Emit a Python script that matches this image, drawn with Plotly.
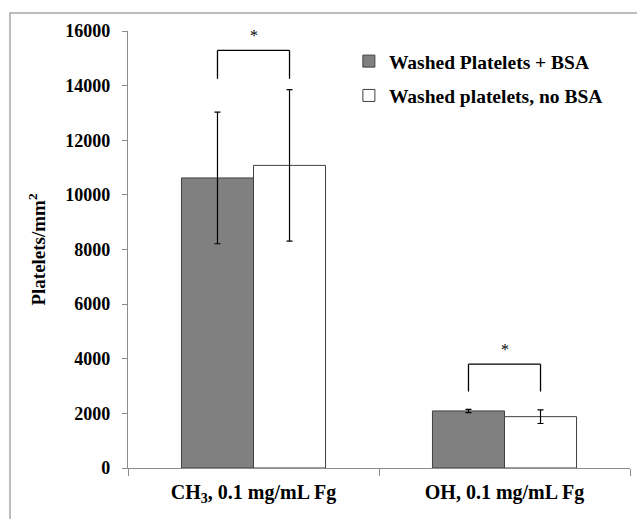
import plotly.graph_objects as go

categories = ["CH<sub>3</sub>, 0.1 mg/mL Fg", "OH, 0.1 mg/mL Fg"]
bsa_values = [10620, 2090]
bsa_errors = [2410, 60]
nobsa_values = [11080, 1880]
nobsa_errors = [2770, 250]
series_names = ["Washed Platelets + BSA", "Washed platelets, no BSA"]
bracket_low = [14250, 2800]
bracket_high = [15290, 3800]
star_y = [15850, 4350]
y_ticks = [0, 2000, 4000, 6000, 8000, 10000, 12000, 14000, 16000]

FONT = "Liberation Serif"
BARGAP = 0.426
half = (1 - BARGAP) / 4.0

fig = go.Figure()
fig.add_trace(go.Bar(
    x=categories, y=bsa_values, name="<b>" + series_names[0] + "</b>", legendgroup="a",
    marker=dict(color="#808080", line=dict(color="#404040", width=1)),
    error_y=dict(type="data", array=bsa_errors, color="black", thickness=1.2, width=3),
))
fig.add_trace(go.Bar(
    x=categories, y=nobsa_values, name="<b>" + series_names[1] + "</b>", legendgroup="b",
    marker=dict(color="white", line=dict(color="#404040", width=1)),
    error_y=dict(type="data", array=nobsa_errors, color="black", thickness=1.2, width=3),
))

shapes = []
annotations = []
for i in range(len(categories)):
    xl = i - half
    xr = i + half
    for (xa, ya, xb, yb) in [(xl, bracket_low[i], xl, bracket_high[i]),
                             (xl, bracket_high[i], xr, bracket_high[i]),
                             (xr, bracket_high[i], xr, bracket_low[i])]:
        shapes.append(dict(type="line", xref="x", yref="y", x0=xa, y0=ya, x1=xb, y1=yb,
                           line=dict(color="black", width=1.3)))
    annotations.append(dict(x=i, y=star_y[i], xref="x", yref="y", text="*", showarrow=False,
                            font=dict(family=FONT, size=16, color="black")))

# outer frame
shapes.append(dict(type="rect", xref="paper", yref="paper",
                   x0=(10 - 128) / 502, x1=(650 - 128) / 502,
                   y0=(468 - 530) / 437, y1=(468 - 13) / 437,
                   line=dict(color="#a6a6a6", width=1.5), fillcolor="rgba(0,0,0,0)", layer="below"))

fig.update_layout(
    width=637, height=519,
    margin=dict(l=128, r=7, t=31, b=51),
    paper_bgcolor="white", plot_bgcolor="white",
    barmode="group", bargap=BARGAP, bargroupgap=0,
    font=dict(family=FONT, color="black"),
    shapes=shapes, annotations=annotations,
    legend=dict(x=0.44, y=0.975, xanchor="left", yanchor="top",
                font=dict(family=FONT, size=19.5, color="black"),
                bgcolor="rgba(0,0,0,0)", itemwidth=30, tracegroupgap=6,
                traceorder="grouped"),
    showlegend=True,
)
fig.update_xaxes(
    showline=True, linecolor="#8c8c8c", linewidth=1.2,
    ticks="outside", tickson="boundaries", ticklen=7, tickcolor="#8c8c8c",
    tickfont=dict(family=FONT, size=20, color="black"),
    ticklabelstandoff=6,
    showgrid=False, zeroline=False,
    tickvals=categories, ticktext=["<b>" + c + "</b>" for c in categories],
)
fig.update_yaxes(
    range=[0, 16000], tickvals=y_ticks, ticktext=["<b>" + str(v) + "</b>" for v in y_ticks],
    showline=True, linecolor="#8c8c8c", linewidth=1.2,
    ticks="outside", ticklen=5, tickcolor="#8c8c8c",
    tickfont=dict(family=FONT, size=18, color="black"),
    ticklabelstandoff=8,
    showgrid=False, zeroline=False,
    title=dict(text="<b>Platelets/mm<sup>2</sup></b>", font=dict(family=FONT, size=19, color="black"), standoff=14),
)
fig.write_html("out.html")
